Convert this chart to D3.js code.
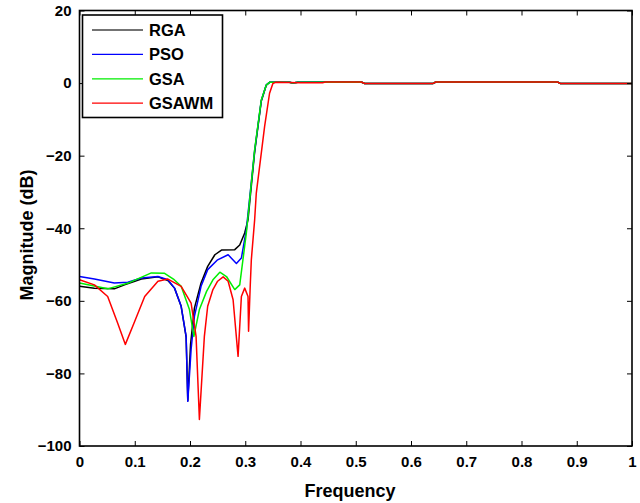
<!DOCTYPE html>
<html>
<head>
<meta charset="utf-8">
<script src="https://cdn.jsdelivr.net/npm/d3@7"></script>
<style>
  body { margin: 0; background: #fff; }
  svg text { font-family: "Liberation Sans", Arial, sans-serif; font-weight: bold; }
</style>
</head>
<body>
<svg id="chart"></svg>
<script>
'use strict';

var xTicks = [0, 0.1, 0.2, 0.3, 0.4, 0.5, 0.6, 0.7, 0.8, 0.9, 1];
var yTicks = [20, 0, -20, -40, -60, -80, -100];

var seriesNames = ['RGA', 'PSO', 'GSA', 'GSAWM'];
var seriesColors = ['#000000', '#0000ff', '#00ee00', '#ff0000'];

// passband ripple, shared by every design
var passF  = [0.38, 0.386, 0.395, 0.51, 0.516, 0.64, 0.645, 0.865, 0.87, 1];
var passDb = [0.2, 0.0, 0.2, 0.3, -0.1, -0.1, 0.3, 0.3, -0.1, -0.1];

var rgaF  = [0, 0.027, 0.063, 0.0815, 0.112, 0.142, 0.16, 0.172, 0.184, 0.193, 0.196, 0.201, 0.208, 0.22, 0.232, 0.245, 0.257, 0.281, 0.29, 0.299, 0.305, 0.317, 0.329, 0.338, 0.344];
var rgaDb = [-56, -56.5, -56.7, -55.6, -54, -53.4, -54.4, -56.5, -61.5, -70, -87.5, -72, -62, -55.1, -50.5, -47.3, -46, -45.9, -44.6, -41.3, -37.7, -19, -5, -0.6, 0.2];

var psoF  = [0, 0.027, 0.063, 0.0875, 0.112, 0.142, 0.16, 0.172, 0.184, 0.193, 0.196, 0.202, 0.208, 0.22, 0.232, 0.25, 0.269, 0.284, 0.293, 0.302, 0.317, 0.329, 0.338, 0.344];
var psoDb = [-53.3, -54, -55.1, -54.9, -53.7, -53.3, -54.2, -56.5, -61.5, -69.8, -87.7, -73.4, -64.3, -56, -51.4, -48.7, -47.3, -49.7, -48.2, -40.4, -18.6, -4.8, -0.5, 0.2];

var gsaF  = [0, 0.051, 0.09, 0.13, 0.154, 0.17, 0.184, 0.199, 0.207, 0.217, 0.23, 0.2415, 0.254, 0.266, 0.281, 0.29, 0.302, 0.317, 0.329, 0.338, 0.344];
var gsaDb = [-55.1, -56.7, -55, -52.3, -52.4, -54, -56, -62.4, -69.8, -62.4, -57.4, -54.2, -52.1, -53.3, -56.9, -55.6, -41.3, -18.4, -4.7, -0.55, 0.2];

var gsawmF  = [0, 0.027, 0.051, 0.069, 0.083, 0.1, 0.118, 0.142, 0.16, 0.184, 0.202, 0.211, 0.217, 0.226, 0.232, 0.2415, 0.25, 0.26, 0.269, 0.278, 0.287, 0.293, 0.299, 0.305, 0.306, 0.309, 0.311, 0.317, 0.32, 0.335, 0.344, 0.35, 0.355, 0.4, 0.44, 0.445];
var gsawmDb = [-54.2, -55.6, -58.8, -66.1, -72, -65.6, -58.8, -54.6, -54, -56, -60.6, -69.8, -92.7, -69.8, -61.5, -56.9, -54.6, -53.4, -54.6, -59.7, -75.3, -58.8, -56.5, -58.8, -68.4, -56, -48.7, -37.7, -30.3, -12, -2.8, -0.1, 0.2, 0.1, 0.1, 0.3];

var width = 640;
var height = 503;
var margin = { top: 10.5, right: 8, bottom: 57, left: 79.5 };
var innerW = width - margin.left - margin.right;
var innerH = height - margin.top - margin.bottom;

var svg = d3.select('#chart')
  .attr('width', width)
  .attr('height', height);

var g = svg.append('g')
  .attr('transform', 'translate(' + margin.left + ',' + margin.top + ')');

var x = d3.scaleLinear().domain([0, 1]).range([0, innerW]);
var y = d3.scaleLinear().domain([-100, 20]).range([innerH, 0]);

// join stopband/transition points with the passband points (from index `from`)
function zipSeries(f, db, from) {
  var pts = f.map(function(v, i) { return [v, db[i]]; });
  passF.slice(from).forEach(function(v, i) { pts.push([v, passDb[i + from]]); });
  return pts;
}

var series = [
  zipSeries(rgaF, rgaDb, 0),
  zipSeries(psoF, psoDb, 0),
  zipSeries(gsaF, gsaDb, 0),
  zipSeries(gsawmF, gsawmDb, 3)
];

var line = d3.line()
  .x(function(d) { return x(d[0]); })
  .y(function(d) { return y(d[1]); });

g.append('g').selectAll('path')
  .data(series)
  .enter().append('path')
  .attr('fill', 'none')
  .attr('stroke', function(d, i) { return seriesColors[i]; })
  .attr('stroke-width', 1.5)
  .attr('stroke-linejoin', 'round')
  .attr('d', line);

// axes: ticks inward, on all four sides
var tickLen = 5;
var bottomAxis = d3.axisBottom(x).tickValues(xTicks).tickSizeInner(-tickLen).tickSizeOuter(0)
  .tickPadding(10).tickFormat(function(d) { return d === 0 || d === 1 ? d3.format('d')(d) : d3.format('.1f')(d); });
var leftAxis = d3.axisLeft(y).tickValues(yTicks).tickSizeInner(-tickLen).tickSizeOuter(0)
  .tickPadding(8).tickFormat(d3.format('d'));

var gx = g.append('g')
  .attr('transform', 'translate(0,' + innerH + ')')
  .call(bottomAxis);
var gy = g.append('g').call(leftAxis);

g.append('g').call(d3.axisTop(x).tickValues(xTicks).tickSizeInner(-tickLen).tickSizeOuter(0).tickFormat(''));
g.append('g').attr('transform', 'translate(' + innerW + ',0)')
  .call(d3.axisRight(y).tickValues(yTicks).tickSizeInner(-tickLen).tickSizeOuter(0).tickFormat(''));

g.selectAll('.domain').remove();
g.selectAll('.tick line').attr('stroke', '#000').attr('stroke-width', 1);
gx.selectAll('text').attr('font-size', 15).attr('fill', '#000');
gy.selectAll('text').attr('font-size', 15).attr('fill', '#000');

g.append('rect')
  .attr('width', innerW)
  .attr('height', innerH)
  .attr('fill', 'none')
  .attr('stroke', '#000')
  .attr('stroke-width', 1.6);

// axis labels
svg.append('text')
  .attr('x', 350)
  .attr('y', 497)
  .attr('text-anchor', 'middle')
  .attr('font-size', 18)
  .text('Frequency');

svg.append('text')
  .attr('transform', 'translate(33,235) rotate(-90)')
  .attr('text-anchor', 'middle')
  .attr('font-size', 18)
  .text('Magnitude (dB)');

// legend
var legend = svg.append('g').attr('transform', 'translate(82.5,15)');
legend.append('rect')
  .attr('width', 140)
  .attr('height', 102.5)
  .attr('fill', '#fff')
  .attr('stroke', '#000')
  .attr('stroke-width', 1.6);

var item = legend.selectAll('g.item')
  .data(seriesNames)
  .enter().append('g')
  .attr('class', 'item')
  .attr('transform', function(d, i) { return 'translate(0,' + (15 + i * 24.4) + ')'; });

item.append('line')
  .attr('x1', 9.5).attr('x2', 60.5)
  .attr('stroke', function(d, i) { return i === 0 ? '#444' : seriesColors[i]; })
  .attr('stroke-width', 1.3);

item.append('text')
  .attr('x', 66.5)
  .attr('dy', '0.36em')
  .attr('font-size', 16.5)
  .text(function(d) { return d; });
</script>
</body>
</html>
